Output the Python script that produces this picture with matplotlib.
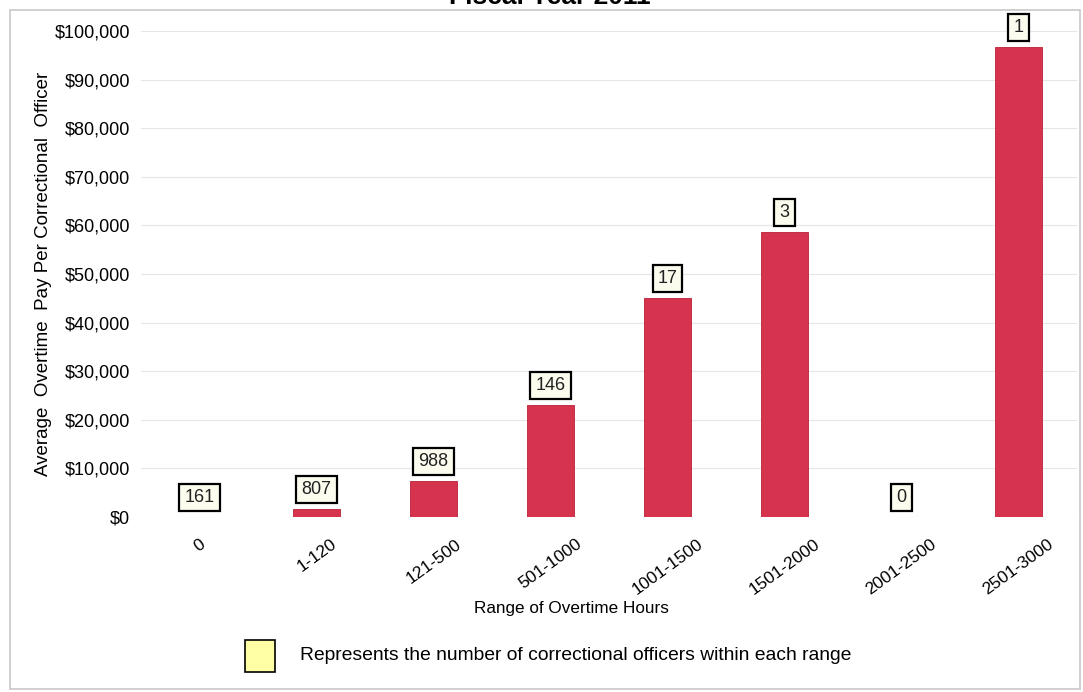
import matplotlib
matplotlib.use("Agg")
import matplotlib.pyplot as plt
from matplotlib.patches import Rectangle
from matplotlib.ticker import FuncFormatter

plt.rcParams['font.family'] = ['Liberation Sans', 'DejaVu Sans']

categories = ["0", "1-120", "121-500", "501-1000", "1001-1500",
              "1501-2000", "2001-2500", "2501-3000"]
avg_pay = [0, 1700, 7400, 23000, 45000, 58700, 0, 96700]
officers = [161, 807, 988, 146, 17, 3, 0, 1]

W, H = 1083, 692
fig = plt.figure(figsize=(W / 100, H / 100), dpi=100)
fig.patch.set_facecolor("white")

# outer frame
fig.add_artist(Rectangle((0.009, 0.004), 0.988, 0.982, transform=fig.transFigure,
                         fill=False, edgecolor="#c8c8c8", linewidth=1.2))

# title, running past the top edge
fig.text(550 / W, 1 - 4 / H, "Fiscal Year 2011", ha="center", va="baseline",
         fontsize=19, fontweight="bold", color="black")

ax = fig.add_axes([141 / W, 1 - 517 / H, 936 / W, 486 / H])
x = list(range(len(categories)))
ax.bar(x, avg_pay, width=0.4, color="#d6344e", edgecolor="#b82038", linewidth=0.6, zorder=3)
ax.set_xlim(-0.5, len(categories) - 0.5)
ax.set_ylim(0, 100000)
ax.set_yticks(range(0, 100001, 10000))
ax.yaxis.set_major_formatter(FuncFormatter(lambda v, p: f"${v:,.0f}"))
ax.grid(axis="y", color="#e6e6e6", linewidth=0.8, zorder=0)
for s in ax.spines.values():
    s.set_visible(False)
ax.tick_params(axis="both", length=0, colors="black")
ax.tick_params(axis="y", labelsize=13, pad=8)
ax.set_xticks(x)
ax.set_xticklabels(categories, rotation=36, ha="center", fontsize=12.5)
ax.tick_params(axis="x", pad=14)
ax.set_ylabel("Average  Overtime  Pay Per Correctional  Officer", fontsize=13.5, labelpad=4)
ax.yaxis.set_label_coords(-0.095, 0.5)

fig.text(571 / W, 1 - 608 / H, "Range of Overtime Hours", ha="center", va="center",
         fontsize=12.3, color="black")

for xi, v, n in zip(x, avg_pay, officers):
    ax.annotate(str(n), (xi, v), xytext=(0, 8), textcoords="offset points",
                ha="center", va="bottom", fontsize=13, color="#222222",
                annotation_clip=False,
                bbox=dict(boxstyle="square,pad=0.28", facecolor="#fbfbee",
                          edgecolor="black", linewidth=1.6), zorder=5)

# legend key
fig.add_artist(Rectangle((245 / W, 1 - 672 / H), 30 / W, 32 / H,
                         transform=fig.transFigure, facecolor="#ffffa6",
                         edgecolor="black", linewidth=1.2))
fig.text(300 / W, 1 - 656 / H,
         "Represents the number of correctional officers within each range",
         ha="left", va="center", fontsize=13.9, color="black")

fig.savefig("out.png", dpi=100)
